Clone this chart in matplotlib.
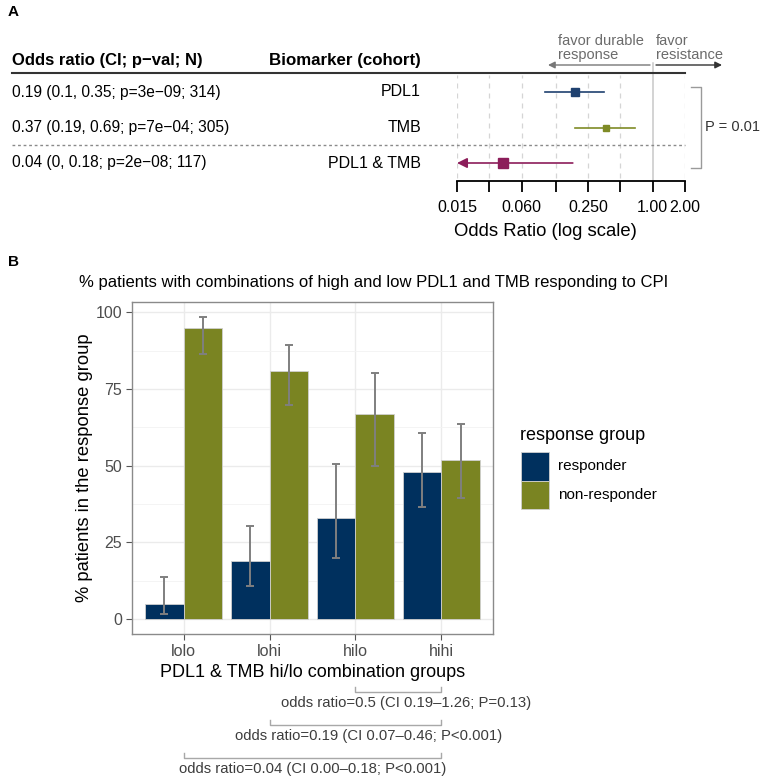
import numpy as np
import matplotlib
matplotlib.use("Agg")
import matplotlib.pyplot as plt
from matplotlib.lines import Line2D
from matplotlib.patches import Rectangle, FancyArrowPatch
import matplotlib.transforms as mtrans

plt.rcParams['font.family'] = ['Liberation Sans', 'DejaVu Sans']

# ---------------- data ----------------
# Panel A (forest)
biomarkers = ["PDL1", "TMB", "PDL1 & TMB"]
or_est = [0.19, 0.37, 0.04]
or_lo = [0.10, 0.19, 0.0]
or_hi = [0.35, 0.69, 0.18]
or_text = ["0.19 (0.1, 0.35; p=3e\u221209; 314)",
           "0.37 (0.19, 0.69; p=7e\u221204; 305)",
           "0.04 (0, 0.18; p=2e\u221208; 117)"]
forest_colors = ["#1f4170", "#7f8b26", "#8c1d5a"]
forest_msize = [6, 4.5, 7]
forest_ticks = [0.015, 0.03, 0.06, 0.125, 0.25, 0.5, 1.0, 2.0]
forest_ticklabels = ["0.015", "", "0.060", "", "0.250", "", "1.00", "2.00"]
p_compare = "P = 0.01"

# Panel B (bars)
groups = ["lolo", "lohi", "hilo", "hihi"]
resp_pct = [5, 19, 33, 48]
resp_lo = [1.6, 10.7, 19.8, 36.5]
resp_hi = [13.7, 30.4, 50.6, 60.7]
nonresp_pct = [95, 81, 67, 52]
nonresp_lo = [86.3, 69.7, 49.9, 39.4]
nonresp_hi = [98.5, 89.5, 80.4, 63.7]
series_names = ["responder", "non-responder"]
series_colors = ["#00305e", "#7a8422"]
comparisons = [("hilo", "hihi", "odds ratio=0.5 (CI 0.19\u20131.26; P=0.13)"),
               ("lohi", "hihi", "odds ratio=0.19 (CI 0.07\u20130.46; P<0.001)"),
               ("lolo", "hihi", "odds ratio=0.04 (CI 0.00\u20130.18; P<0.001)")]
comparison_text_shift = [0.09, 0.15, 0.0]

# ---------------- figure ----------------
W, H = 760, 779
fig = plt.figure(figsize=(W / 100, H / 100), dpi=100)


def fx(x):
    return x / W


def fy(y):
    return 1 - y / H


grey_txt = "#4d4d4d"
fig.text(fx(8), fy(12), "A", fontsize=11, fontweight="bold", va="center", ha="left")
fig.text(fx(8), fy(262), "B", fontsize=11, fontweight="bold", va="center", ha="left")

# ---- Panel A ----
axA = fig.add_axes([fx(457), fy(180.75), (685 - 457) / W, (180.75 - 74.25) / H])
axA.set_xscale("log", base=2)
axA.set_xlim(forest_ticks[0], forest_ticks[-1])
nrow = len(biomarkers)
ypos = np.arange(nrow, 0, -1)
axA.set_ylim(0.5, nrow + 0.5)
for s in ["left", "right", "top"]:
    axA.spines[s].set_visible(False)
axA.spines["bottom"].set_linewidth(1.3)
axA.set_yticks([])
axA.set_xticks(forest_ticks)
axA.set_xticklabels(forest_ticklabels)
axA.xaxis.set_minor_locator(matplotlib.ticker.NullLocator())
axA.tick_params(axis="x", length=8, width=1.3, labelsize=11.5, pad=6, colors="black")
axA.set_xlabel("Odds Ratio (log scale)", fontsize=13.3, labelpad=4)
axA.xaxis.set_label_coords(fx(545 - 457) * W / (685 - 457), -0.40)
for t in forest_ticks:
    if t == 1.0:
        axA.axvline(t, ymin=0, ymax=1.11, color="#c8c8c8", lw=1.1, clip_on=False, zorder=1)
    else:
        axA.axvline(t, ymin=0.03, ymax=0.99, color="#d5d5d5", lw=0.9, ls=(0, (4, 4)), zorder=1)

xmin = axA.get_xlim()[0]
for i in range(nrow):
    y = ypos[i]
    lo = or_lo[i]
    c = forest_colors[i]
    if lo <= xmin:
        axA.annotate("", xy=(xmin, y), xytext=(or_hi[i], y),
                     arrowprops=dict(arrowstyle="-|>,head_length=0.6,head_width=0.3",
                                     color=c, lw=1.2, shrinkA=0, shrinkB=0), zorder=3)
    else:
        axA.plot([lo, or_hi[i]], [y, y], color=c, lw=1.2, zorder=3)
    axA.plot([or_est[i]], [y], marker="s", ms=forest_msize[i], color=c, zorder=4, ls="none")

# separator dotted line between single and combined
trA = mtrans.blended_transform_factory(fig.transFigure, axA.transData)
axA.add_line(Line2D([fx(12), fx(685)], [1.5, 1.5], transform=trA, color="#8a8a8a",
                    lw=1.0, ls=(0, (2, 2)), clip_on=False))

# table text
fig.text(fx(12), fy(61), "Odds ratio (CI; p\u2212val; N)", fontsize=12, fontweight="bold",
         ha="left", va="center")
fig.text(fx(421), fy(61), "Biomarker (cohort)", fontsize=12.2, fontweight="bold",
         ha="right", va="center")
fig.add_artist(Line2D([fx(12), fx(685)], [fy(73), fy(73)], color="#333333", lw=1.5))
for i in range(nrow):
    axA.text(fx(12), ypos[i], or_text[i], transform=trA, fontsize=11.2, ha="left", va="center")
    axA.text(fx(421), ypos[i], biomarkers[i], transform=trA, fontsize=11.5, ha="right", va="center")

# favor arrows
fig.add_artist(FancyArrowPatch((fx(650), fy(65)), (fx(548), fy(65)),
               arrowstyle="-|>,head_length=4,head_width=2", color="#777777", lw=1.0,
               transform=fig.transFigure, shrinkA=0, shrinkB=0))
fig.add_artist(FancyArrowPatch((fx(656), fy(65)), (fx(722), fy(65)),
               arrowstyle="-|>,head_length=4,head_width=2", color="#333333", lw=1.0,
               transform=fig.transFigure, shrinkA=0, shrinkB=0))
fig.text(fx(558), fy(48), "favor durable\nresponse", fontsize=10.5, color="#6b6b6b",
         ha="left", va="center", linespacing=1.0)
fig.text(fx(656), fy(48), "favor\nresistance", fontsize=10.5, color="#6b6b6b",
         ha="left", va="center", linespacing=1.0)

# comparison bracket
bc = "#9a9a9a"
fig.add_artist(Line2D([fx(691), fx(701), fx(701), fx(691)],
                      [fy(87), fy(87), fy(168), fy(168)], color=bc, lw=1.0))
fig.text(fx(705), fy(127), p_compare, fontsize=10.5, color="#333333", ha="left", va="center")

# ---- Panel B ----
axB = fig.add_axes([fx(132), fy(634), (493 - 132) / W, (634 - 302) / H])
x = np.arange(1, len(groups) + 1)
bw = 0.45
resp_err = [np.array(resp_pct) - np.array(resp_lo), np.array(resp_hi) - np.array(resp_pct)]
non_err = [np.array(nonresp_pct) - np.array(nonresp_lo), np.array(nonresp_hi) - np.array(nonresp_pct)]
axB.bar(x - bw / 2, resp_pct, width=bw, color=series_colors[0], edgecolor="#d0d0d0",
        lw=0.6, zorder=2, label=series_names[0])
axB.bar(x + bw / 2, nonresp_pct, width=bw, color=series_colors[1], edgecolor="#d0d0d0",
        lw=0.6, zorder=2, label=series_names[1])
axB.errorbar(x - bw / 2, resp_pct, yerr=resp_err, fmt="none", ecolor="#7f7f7f",
             elinewidth=1.4, capsize=2.7, capthick=1.4, zorder=3)
axB.errorbar(x + bw / 2, nonresp_pct, yerr=non_err, fmt="none", ecolor="#7f7f7f",
             elinewidth=1.4, capsize=2.7, capthick=1.4, zorder=3)
axB.set_xlim(0.4, len(groups) + 0.6)
ymaxd = max(nonresp_hi)
axB.set_ylim(-0.05 * ymaxd, ymaxd * 1.05)
axB.set_xticks(x)
axB.set_xticklabels(groups)
axB.set_yticks([0, 25, 50, 75, 100])
axB.set_yticks([12.5, 37.5, 62.5, 87.5], minor=True)
axB.grid(True, which="major", color="#ebebeb", lw=1.0, zorder=0)
axB.grid(True, which="minor", axis="y", color="#f3f3f3", lw=0.6, zorder=0)
axB.set_axisbelow(True)
for s in axB.spines.values():
    s.set_color("#8a8a8a")
    s.set_linewidth(1.0)
axB.tick_params(axis="both", which="major", length=4, color="#555555", labelsize=11.5,
                labelcolor=grey_txt, pad=3)
axB.tick_params(axis="y", which="minor", length=0)
axB.set_ylabel("% patients in the response group", fontsize=13.2, labelpad=2)
axB.set_xlabel("PDL1 & TMB hi/lo combination groups", fontsize=13, labelpad=4)
axB.set_title("% patients with combinations of high and low PDL1 and TMB responding to CPI",
              fontsize=12, pad=11, x=0.67)

# legend (drawn as keys in figure coordinates)
fig.text(fx(520), fy(436), "response group", fontsize=13, ha="left", va="center")
key_top = 452
key_h = 28.5
for k, (nm, col) in enumerate(zip(series_names, series_colors)):
    top = key_top + k * key_h
    fig.add_artist(Rectangle((fx(521), fy(top + key_h)), (549 - 521) / W, key_h / H,
                             transform=fig.transFigure, facecolor=col,
                             edgecolor="#d0d0d0", lw=0.6))
    fig.text(fx(558), fy(top + key_h / 2), nm, fontsize=11, ha="left", va="center")

# comparison brackets below
trB = mtrans.blended_transform_factory(axB.transData, fig.transFigure)
bracket_y = [692, 725, 758]
for (g1, g2, label), by, sh in zip(comparisons, bracket_y, comparison_text_shift):
    x1 = x[groups.index(g1)]
    x2 = x[groups.index(g2)]
    axB.add_line(Line2D([x1, x1, x2, x2], [fy(by - 5), fy(by), fy(by), fy(by - 5)],
                        transform=trB, color="#a8a8a8", lw=1.0, clip_on=False))
    axB.text((x1 + x2) / 2 + sh, fy(by + 11), label, transform=trB, fontsize=10.7,
             color="#3d3d3d", ha="center", va="center")

fig.savefig("out.png", dpi=100)
